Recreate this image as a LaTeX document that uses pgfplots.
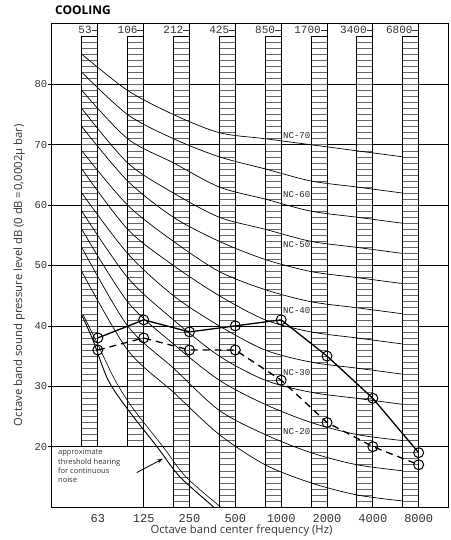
\documentclass[border=0pt]{standalone}
\usepackage{fontspec}
\setmainfont{Open Sans}
\newfontfamily\monofont{Liberation Mono}
\usepackage{pgfplots}
\pgfplotsset{compat=1.18}
\usepackage{pgfplotstable}
\usetikzlibrary{arrows.meta}

% NC curves, plotted at the left edges of the old-octave-band columns
\pgfplotstableread{
x     n15 n20 n25 n30 n35 n40 n45 n50 n55 n60 n65 n70
-0.35 49  53  56  59  62  66  69  73  76  79  82  85
0.65  36  40  44  48  52  56  60  64  67  71  75  79
1.65  29  33  37  41  45  50  54  58  62  67  71  75
2.65  22  26  31  35  40  45  49  54  58  63  68  72
3.65  17  22  27  31  36  41  46  51  56  61  66  71
4.65  14  19  24  29  34  39  44  49  54  59  64  70
5.65  12  17  22  28  33  38  43  48  53  58  63  69
6.65  11  16  21  27  32  37  42  47  52  57  62  68
}\nctable

% measured spectra
\pgfplotstableread{
x a  b
0 38 36
1 41 38
2 39 36
3 40 36
4 41 31
5 35 24
6 28 20
7 19 17
}\datatable

\begin{document}
\begin{tikzpicture}
\begin{axis}[
  name=ax, scale only axis, width=396pt, height=483pt,
  xmin=-1, xmax=7.64, ymin=10, ymax=90,
  xtick={0,...,7}, xticklabels={63,125,250,500,1000,2000,4000,8000},
  ytick={20,30,...,80}, yticklabels={20,30,40,50,60,70,80},
  ymajorgrids, grid style={black, line width=0.7pt},
  axis line style={black, line width=1pt},
  x tick style={draw=none}, ytick pos=left, tick align=outside,
  y tick style={black, line width=0.6pt}, major tick length=4pt,
  xticklabel style={font=\monofont\fontsize{12}{12}\selectfont, text=black!80},
  yticklabel style={font=\monofont\fontsize{10.5}{10.5}\selectfont, text=black!80, inner sep=0.5pt},
  xlabel={\fontsize{11.3}{13}\selectfont Octave band center frequency (Hz)},
  ylabel={\fontsize{11.3}{13}\selectfont Octave band sound pressure level dB (0 dB\,=\,0,0002µ bar)},
  every axis x label/.style={at={(axis description cs:0.4785,-0.0497)}, anchor=center, text=black!80},
  every axis y label/.style={at={(axis description cs:-0.083,0.48)}, rotate=90, anchor=center, text=black!80},
]
% hatched columns: first two stop at 20 dB
\pgfplotsinvokeforeach{0,1}{
  \draw[black!60, line width=0.55pt] \foreach \yy in {21,...,87} {({#1-0.35},\yy) -- (#1,\yy)};
  \draw[black, line width=0.8pt] ({#1-0.35},20) -- ({#1-0.35},88) -- (#1,88);
}
\draw[black, line width=0.8pt] (0,20) -- (0,90);
\draw[black, line width=0.8pt] (1,10) -- (1,90);
\pgfplotsinvokeforeach{2,...,7}{
  \draw[black!60, line width=0.55pt] \foreach \yy in {11,...,87} {({#1-0.35},\yy) -- (#1,\yy)};
  \draw[black, line width=0.8pt] ({#1-0.35},10) -- ({#1-0.35},88) -- (#1,88);
  \draw[black, line width=0.8pt] (#1,10) -- (#1,90);
}
% top band labels
\foreach \i/\t in {0/53,1/106,2/212,3/425,4/850,5/1700,6/3400,7/6800}{
  \edef\tmp{\noexpand\node[anchor=east, inner sep=0pt, font=\noexpand\monofont\noexpand\fontsize{11}{11}\noexpand\selectfont, text=black!80] at (\i,89) {\t\noexpand\rule[0.3em]{6pt}{0.6pt}};}
  \tmp
}
% NC curves
\foreach \c in {n15,n20,n25,n30,n35,n40,n45,n50,n55,n60,n65,n70}{
  \edef\tmp{\noexpand\addplot[black, line width=0.7pt, smooth, no marks] table[x=x, y=\c] {\noexpand\nctable};}
  \tmp
}
% NC labels
\foreach \v/\t in {71.6/NC-70,61.8/NC-60,53.5/NC-50,42.5/NC-40,32.2/NC-30,22.5/NC-20}{
  \edef\tmp{\noexpand\node[anchor=west, inner sep=0pt, font=\noexpand\monofont\noexpand\fontsize{9}{9}\noexpand\selectfont, text=black!85] at (4.04,\v) {\t};}
  \tmp
}
% threshold of hearing
\addplot[black, line width=0.9pt, smooth, no marks] coordinates {(-0.35,41.8) (-0.11,37.7) (0.22,31.1) (0.63,26.4) (1.29,20.0) (1.79,15.0) (2.51,10.1) (2.56,9.6)};
\addplot[black, line width=0.6pt, smooth, no marks] coordinates {(-0.32,41.8) (-0.05,37.7) (0.37,31.1) (0.76,26.4) (1.42,20.0) (1.92,15.0) (2.66,10.1) (2.71,9.6)};
\node[anchor=north west, align=left, inner sep=0pt, font=\fontsize{7.5}{9.3}\selectfont, text=black!80] at (-0.87,19.6) {approximate\\threshold hearing\\for continuous\\noise};
\draw[-{Stealth[length=6pt,width=4pt]}, line width=0.8pt] (0.85,15.7) -- (1.42,18.0);
% measured spectra
\addplot[black, line width=1.3pt, mark=o, mark size=5pt, mark options={solid, line width=1pt}] table[x=x, y=a] {\datatable};
\addplot[black, line width=1.3pt, dash pattern=on 7pt off 5pt, mark=o, mark size=5pt, mark options={solid, line width=1pt}] table[x=x, y=b] {\datatable};
\end{axis}
\node[anchor=base west, inner sep=0pt, font=\bfseries\fontsize{12}{12}\selectfont] at ([xshift=3pt,yshift=9pt]ax.north west) {COOLING};
\pgfresetboundingbox
\path ([xshift=-52pt,yshift=-33pt]ax.south west) rectangle ([xshift=3pt,yshift=24pt]ax.north east);
\end{tikzpicture}
\end{document}
